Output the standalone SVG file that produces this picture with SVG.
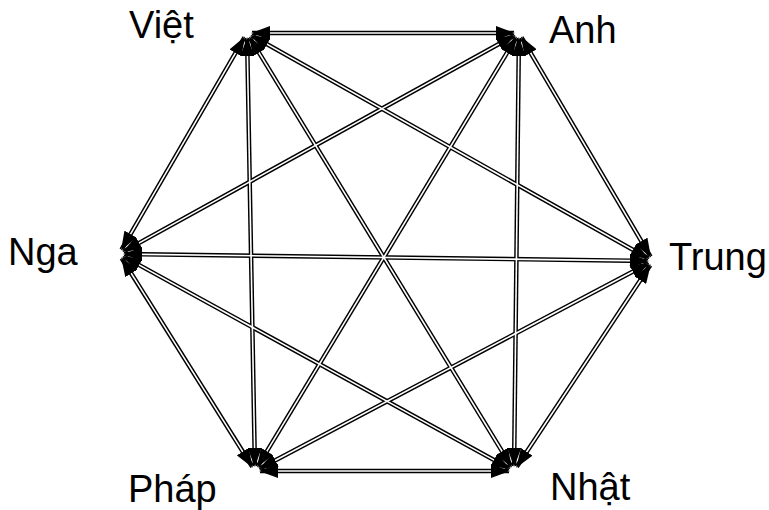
<svg xmlns="http://www.w3.org/2000/svg" width="769" height="510" viewBox="0 0 769 510">
<style>
.lbl{font-family:"Liberation Sans",Arial,sans-serif;font-size:38px;fill:#000}
.outer{stroke:#000;stroke-width:4.5;fill:none}
.inner{stroke:#fff;stroke-width:1.6;fill:none}
.head{stroke:none;fill:none;marker-start:url(#ah);marker-end:url(#ah)}
</style>
<defs>
<marker id="ah" viewBox="0 0 19 14" refX="18" refY="7" markerWidth="19" markerHeight="14" markerUnits="userSpaceOnUse" orient="auto-start-reverse">
<path d="M0,0 L19,7 L0,14 z" fill="#000"/>
</marker>
</defs>
<rect width="769" height="510" fill="#fff"/>
<g id="connectors">
<g class="outer">
<line x1="252" y1="33" x2="514" y2="33"/>
<line x1="251.4" y1="35.4" x2="648.6" y2="258.6"/>
<line x1="249.6" y1="37.3" x2="511.4" y2="466.7"/>
<line x1="247.1" y1="38" x2="254.9" y2="466"/>
<line x1="244.5" y1="37.3" x2="121.5" y2="249.7"/>
<line x1="521.5" y1="37.3" x2="650.5" y2="256.7"/>
<line x1="518.9" y1="38" x2="514.1" y2="466"/>
<line x1="516.4" y1="37.3" x2="257.6" y2="466.7"/>
<line x1="514.6" y1="35.4" x2="123.4" y2="251.6"/>
<line x1="650.2" y1="265.2" x2="516.8" y2="466.8"/>
<line x1="648.6" y1="263.3" x2="259.4" y2="468.7"/>
<line x1="648" y1="260.9" x2="124" y2="254.1"/>
<line x1="509" y1="471" x2="260" y2="471"/>
<line x1="509.6" y1="468.6" x2="123.4" y2="256.4"/>
<line x1="252.3" y1="466.8" x2="121.7" y2="258.2"/>
</g>
<g class="inner">
<line x1="252" y1="33" x2="514" y2="33"/>
<line x1="251.4" y1="35.4" x2="648.6" y2="258.6"/>
<line x1="249.6" y1="37.3" x2="511.4" y2="466.7"/>
<line x1="247.1" y1="38" x2="254.9" y2="466"/>
<line x1="244.5" y1="37.3" x2="121.5" y2="249.7"/>
<line x1="521.5" y1="37.3" x2="650.5" y2="256.7"/>
<line x1="518.9" y1="38" x2="514.1" y2="466"/>
<line x1="516.4" y1="37.3" x2="257.6" y2="466.7"/>
<line x1="514.6" y1="35.4" x2="123.4" y2="251.6"/>
<line x1="650.2" y1="265.2" x2="516.8" y2="466.8"/>
<line x1="648.6" y1="263.3" x2="259.4" y2="468.7"/>
<line x1="648" y1="260.9" x2="124" y2="254.1"/>
<line x1="509" y1="471" x2="260" y2="471"/>
<line x1="509.6" y1="468.6" x2="123.4" y2="256.4"/>
<line x1="252.3" y1="466.8" x2="121.7" y2="258.2"/>
</g>
<g class="head">
<line x1="252" y1="33" x2="514" y2="33"/>
<line x1="251.4" y1="35.4" x2="648.6" y2="258.6"/>
<line x1="249.6" y1="37.3" x2="511.4" y2="466.7"/>
<line x1="247.1" y1="38" x2="254.9" y2="466"/>
<line x1="244.5" y1="37.3" x2="121.5" y2="249.7"/>
<line x1="521.5" y1="37.3" x2="650.5" y2="256.7"/>
<line x1="518.9" y1="38" x2="514.1" y2="466"/>
<line x1="516.4" y1="37.3" x2="257.6" y2="466.7"/>
<line x1="514.6" y1="35.4" x2="123.4" y2="251.6"/>
<line x1="650.2" y1="265.2" x2="516.8" y2="466.8"/>
<line x1="648.6" y1="263.3" x2="259.4" y2="468.7"/>
<line x1="648" y1="260.9" x2="124" y2="254.1"/>
<line x1="509" y1="471" x2="260" y2="471"/>
<line x1="509.6" y1="468.6" x2="123.4" y2="256.4"/>
<line x1="252.3" y1="466.8" x2="121.7" y2="258.2"/>
</g>
</g>
<g id="node-viet"><text class="lbl" x="129" y="38">Việt</text></g>
<g id="node-anh"><text class="lbl" x="549" y="43">Anh</text></g>
<g id="node-trung"><text class="lbl" x="669" y="270">Trung</text></g>
<g id="node-nhat"><text class="lbl" x="550" y="500">Nhật</text></g>
<g id="node-phap"><text class="lbl" x="128" y="502">Pháp</text></g>
<g id="node-nga"><text class="lbl" x="8" y="265">Nga</text></g>
</svg>
